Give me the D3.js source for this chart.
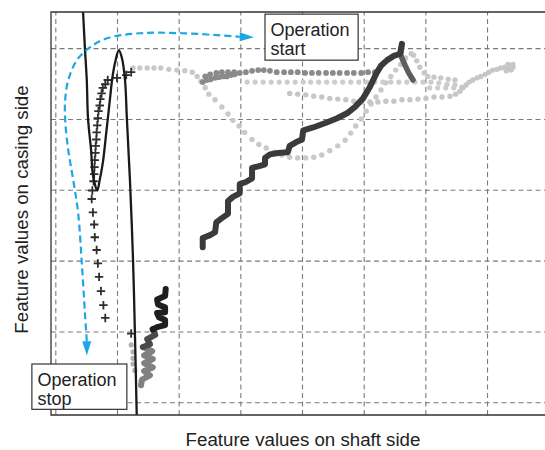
<!DOCTYPE html>
<html>
<head>
<meta charset="utf-8">
<script src="https://cdn.jsdelivr.net/npm/d3@7"></script>
<style>
  body { margin: 0; background: #fff; }
  text { font-family: "Liberation Sans", Arial, sans-serif; fill: #222; }
</style>
</head>
<body>
<div id="chart"></div>
<script>
// grid positions (chart has no tick labels)
const xGrid = [0, 10, 20, 30, 40, 50, 60, 70];
const yGrid = [0, 10, 20, 30, 40, 50];

// black solid curve
const blackCurve = [[4.5,55.1],[4.8,50.0],[5.1,45.5],[5.3,40.1],[5.8,35.6],[6.1,32.1],[6.8,29.9],[7.2,31.4],[7.7,33.8],[8.3,38.4],[8.9,43.1],[9.2,45.5],[9.7,48.0],[10.3,49.7],[10.8,48.6],[11.3,45.5],[11.6,40.1],[12.1,31.4],[12.6,20.1],[12.9,10.0],[13.2,-1.8]];

// "+" markers
const crosses = [[12.3,46.6],[11.5,46.2],[10.0,45.8],[8.5,45.5],[8.1,44.9],[7.7,44.4],[7.5,43.6],[7.3,42.8],[7.2,41.9],[7.0,41.1],[6.9,40.1],[6.8,39.1],[6.7,38.1],[6.65,37.1],[6.55,36.2],[6.5,35.2],[6.4,34.2],[6.35,33.2],[6.3,32.2],[6.2,31.2],[6.0,29.9],[5.9,28.7],[6.1,26.8],[6.3,25.1],[6.4,23.3],[6.7,21.5],[6.9,19.6],[7.1,17.7],[7.4,15.7],[7.8,13.7],[8.1,11.9],[12.3,9.7]];

// light grey dotted loop
const lightLoop = [[12.6,47.2],[13.7,47.2],[14.9,47.2],[16.0,47.2],[17.1,47.2],[18.4,47.0],[19.7,46.9],[21.0,46.8],[22.2,46.6],[23.0,46.0],[23.6,45.3],[24.3,44.4],[24.9,43.5],[25.9,42.7],[27.0,41.7],[28.0,40.7],[28.8,39.8],[29.8,39.0],[30.7,38.1],[31.9,37.1],[33.0,36.4],[34.2,35.9],[35.5,35.3],[36.7,34.9],[38.0,34.6],[39.3,34.5],[40.6,34.5],[41.9,34.6],[43.2,34.9],[44.5,35.5],[45.8,36.2],[47.0,37.0],[47.9,38.0],[48.7,39.0],[49.6,40.0],[50.4,41.1],[51.2,42.1],[52.0,43.1],[52.8,44.1],[53.6,45.1],[54.4,46.0],[55.2,46.9],[56.0,47.7],[56.8,48.6],[57.7,49.2],[58.1,49.0],[58.6,48.2],[59.1,47.3],[59.8,46.5],[60.4,46.0],[61.4,45.9],[62.5,45.8],[63.7,45.6],[64.8,45.5]];

// light grey dotted rows
const lightRow = [[31.1,45.2],[32.4,45.2],[33.7,45.2],[35.0,45.2],[36.3,45.2],[37.6,45.2],[38.9,45.2],[40.2,45.2],[41.4,45.2],[42.7,45.2],[44.0,45.2],[45.3,45.2],[46.6,45.2],[47.9,45.2],[49.2,45.2],[50.5,45.2],[51.8,45.2],[53.1,45.2],[54.4,45.2],[55.7,45.2],[57.0,45.2],[58.3,45.2],[59.6,45.2],[60.9,45.2],[62.2,45.1],[63.5,44.9],[64.8,44.8],[65.9,44.5],[60.7,44.4],[62.0,44.4],[63.3,44.4],[64.6,44.4]];

const lightLower = [[38.0,43.6],[39.3,43.5],[40.6,43.4],[41.9,43.2],[43.2,43.1],[44.5,42.9],[45.8,42.8],[47.1,42.7],[48.4,42.5],[49.7,42.4],[51.0,42.4],[52.3,42.4],[53.6,42.5],[54.9,42.5],[56.2,42.7],[57.5,42.7],[58.8,42.8],[60.1,42.9],[61.4,43.1],[62.7,43.1],[64.0,43.2],[64.9,43.5],[65.6,43.9],[66.1,44.4],[66.6,44.8],[67.1,45.2],[67.7,45.5],[68.4,45.8],[69.0,46.0],[69.7,46.3],[70.3,46.6],[70.9,46.9],[71.6,47.0],[72.2,47.2],[72.9,47.3],[73.5,47.3],[74.2,47.3],[73.9,46.9],[73.1,46.8],[74.2,47.7],[73.4,47.7]];

// medium grey dotted band
const midRow = [[23.9,45.2],[24.6,45.5],[25.2,45.6],[25.9,45.8],[26.5,45.9],[27.2,46.0],[27.8,46.0],[28.5,46.2],[29.1,46.3],[29.9,46.5],[30.9,46.6],[31.9,46.8],[32.9,46.9],[33.8,46.9],[34.8,46.8],[35.9,46.6],[37.1,46.6],[38.2,46.6],[39.3,46.6],[40.5,46.5],[41.6,46.5],[42.7,46.5],[43.9,46.5],[45.0,46.5],[46.1,46.5],[47.3,46.5],[48.4,46.5],[49.6,46.5],[50.7,46.6],[51.8,46.6],[24.3,46.0],[25.1,46.3],[26.1,46.5],[27.0,46.6],[28.0,46.6],[29.0,46.6]];

// dark stepped line
const darkStep = [[23.9,21.9],[23.9,23.2],[25.1,23.6],[25.9,24.0],[26.1,25.4],[27.0,26.0],[28.0,26.6],[28.0,28.4],[28.8,29.0],[29.9,29.5],[29.9,30.8],[30.9,31.1],[31.9,31.6],[31.9,33.1],[32.9,33.3],[34.0,33.6],[34.0,34.5],[34.8,35.0],[36.1,35.2],[37.7,35.3],[38.0,36.2],[39.0,36.7],[40.0,37.1],[40.2,38.4],[41.8,38.8],[44.0,39.5],[45.7,40.1],[47.3,40.8],[48.6,41.7],[49.9,42.9],[51.0,44.5],[52.1,46.5],[52.8,47.5],[53.8,48.3],[54.9,48.9],[55.9,49.2],[56.2,50.6]];
const darkStepTail = [[56.2,50.6],[56.0,49.0],[56.7,47.6],[57.3,46.5],[58.0,45.5]];

// wiggle near the bottom (dark to light)
const wiggleDark = [[17.9,16.0],[17.8,15.0],[16.5,14.5],[16.65,13.8],[17.8,13.4],[17.8,12.7],[16.5,12.6],[16.8,12.0],[17.8,11.6],[17.8,10.9],[16.5,10.6],[15.8,10.3]];
const wiggleMid = [[15.8,10.3],[16.2,9.5],[14.9,8.9],[15.35,8.2],[14.2,7.8]];
const wiggleLight = [[14.2,7.8],[15.7,7.2],[14.4,6.6],[15.8,6.1],[14.4,5.5],[15.8,4.9],[14.4,4.4],[15.35,3.8],[14.05,3.2],[13.9,2.4]];
const wiggleDots = [[12.3,8.1],[12.6,7.1],[12.6,6.2],[12.6,5.4],[12.9,4.5]];

// blue dashed arrow
const bluePath = [[5.1,8.6],[4.8,12.6],[4.3,19.6],[3.7,26.7],[2.9,31.4],[2.1,35.6],[1.6,39.8],[1.6,42.7],[2.1,45.5],[3.5,48.3],[5.6,50.1],[8.4,51.4],[13.7,52.1],[20.7,52.1],[29.9,51.6]];
const blueTipStart = [5.1, 6.6];
const blueTipEnd = [32.2, 51.55];

// annotation boxes
const startBox = {x0: 34.0, x1: 49.1, y0: 54.8, y1: 48.3, lines: ["Operation", "start"]};
const stopBox = {x0: -3.8, x1: 11.6, y0: 5.4, y1: -1.0, lines: ["Operation", "stop"]};

const W = 545, H = 450;
const m = {left: 51, right: 545, top: 12, bottom: 415};

const svg = d3.select("#chart").append("svg")
  .attr("width", W).attr("height", H);

const x = d3.scaleLinear().domain([-0.7, 79.4]).range([m.left, m.right]);
const y = d3.scaleLinear().domain([-1.8, 55.1]).range([m.bottom, m.top]);

svg.append("defs").append("clipPath").attr("id", "clip")
  .append("rect").attr("x", m.left).attr("y", m.top)
  .attr("width", m.right - m.left).attr("height", m.bottom - m.top);

// grid through axes
const gx = svg.append("g")
  .attr("transform", "translate(0," + m.bottom + ")")
  .call(d3.axisBottom(x).tickValues(xGrid).tickSize(-(m.bottom - m.top)).tickFormat(""));
const gy = svg.append("g")
  .attr("transform", "translate(" + m.left + ",0)")
  .call(d3.axisLeft(y).tickValues(yGrid).tickSize(-(m.right - m.left)).tickFormat(""));
[gx, gy].forEach(g => {
  g.select(".domain").remove();
  g.selectAll(".tick line")
    .attr("stroke", "#7a7a7a")
    .attr("stroke-width", 1.1)
    .attr("stroke-dasharray", "5,3.5");
});

const plot = svg.append("g").attr("clip-path", "url(#clip)");

function dots(data, color, r) {
  plot.append("g").selectAll("circle")
    .data(data).enter().append("circle")
      .attr("cx", d => x(d[0]))
      .attr("cy", d => y(d[1]))
      .attr("r", r)
      .style("fill", color);
}

dots(lightLoop, "#c9c9c9", 2.7);
dots(lightRow, "#cccccc", 2.6);
dots(lightLower, "#c6c6c6", 2.7);
dots(midRow, "#8a8a8a", 2.9);

const line = d3.line().x(d => x(d[0])).y(d => y(d[1]));
const smooth = d3.line().x(d => x(d[0])).y(d => y(d[1])).curve(d3.curveCatmullRom.alpha(0.5));

function thick(data, color, w) {
  plot.append("path")
    .datum(data)
    .attr("d", line)
    .attr("fill", "none")
    .attr("stroke", color)
    .attr("stroke-width", w)
    .attr("stroke-linejoin", "round")
    .attr("stroke-linecap", "round");
}

thick(darkStepTail, "#5e5e5e", 5.5);
thick(darkStep, "#3b3b3b", 6);
thick(wiggleLight, "#808080", 6);
thick(wiggleMid, "#4a4a4a", 6);
thick(wiggleDark, "#1f1f1f", 6);
dots(wiggleDots, "#b0b0b0", 2.6);

// crosses
plot.append("g").selectAll("path")
  .data(crosses).enter().append("path")
    .attr("transform", d => "translate(" + x(d[0]) + "," + y(d[1]) + ")")
    .attr("d", "M-4.2,0H4.2M0,-4.2V4.2")
    .attr("stroke", "#2e2e2e")
    .attr("stroke-width", 1.8);

// black curve
plot.append("path")
  .datum(blackCurve)
  .attr("d", smooth)
  .attr("fill", "none")
  .attr("stroke", "#1a1a1a")
  .attr("stroke-width", 2.3);

// blue dashed arrow
const blue = "#1ea7e4";
svg.append("path")
  .datum(bluePath)
  .attr("d", smooth)
  .attr("fill", "none")
  .attr("stroke", blue)
  .attr("stroke-width", 2.2)
  .attr("stroke-dasharray", "7,4");

function arrowHead(base, tip) {
  const bx = x(base[0]), by = y(base[1]);
  const tx = x(tip[0]), ty = y(tip[1]);
  const dx = tx - bx, dy = ty - by, len = Math.hypot(dx, dy);
  const nx = -dy / len * 4.5, ny = dx / len * 4.5;
  svg.append("path")
    .attr("d", "M" + tx + "," + ty + "L" + (bx + nx) + "," + (by + ny) + "L" + (bx - nx) + "," + (by - ny) + "Z")
    .attr("fill", blue);
}
arrowHead(bluePath[0], blueTipStart);
arrowHead(bluePath[bluePath.length - 1], blueTipEnd);

// frame
svg.append("path")
  .attr("d", "M" + m.right + "," + m.top + "H" + m.left + "V" + m.bottom + "H" + m.right)
  .attr("fill", "none")
  .attr("stroke", "#333")
  .attr("stroke-width", 1.3);

// annotation boxes
[startBox, stopBox].forEach(b => {
  const bx = x(b.x0), by = y(b.y0);
  svg.append("rect")
    .attr("x", bx).attr("y", by)
    .attr("width", x(b.x1) - bx).attr("height", y(b.y1) - by)
    .attr("fill", "#fff")
    .attr("stroke", "#333")
    .attr("stroke-width", 1.2);
  svg.append("text")
    .attr("x", bx + 5.5)
    .attr("y", by + 22)
    .style("font-size", "18px")
    .selectAll("tspan")
    .data(b.lines).enter().append("tspan")
      .attr("x", bx + 5.5)
      .attr("dy", (d, i) => i ? 18.5 : 0)
      .text(d => d);
});

// axis titles
svg.append("text")
  .attr("x", (m.left + m.right) / 2 + 5)
  .attr("y", 446)
  .attr("text-anchor", "middle")
  .style("font-size", "18.7px")
  .text("Feature values on shaft side");

svg.append("text")
  .attr("transform", "translate(28," + ((m.top + m.bottom) / 2 - 4) + ") rotate(-90)")
  .attr("text-anchor", "middle")
  .style("font-size", "18.7px")
  .text("Feature values on casing side");
</script>
</body>
</html>
